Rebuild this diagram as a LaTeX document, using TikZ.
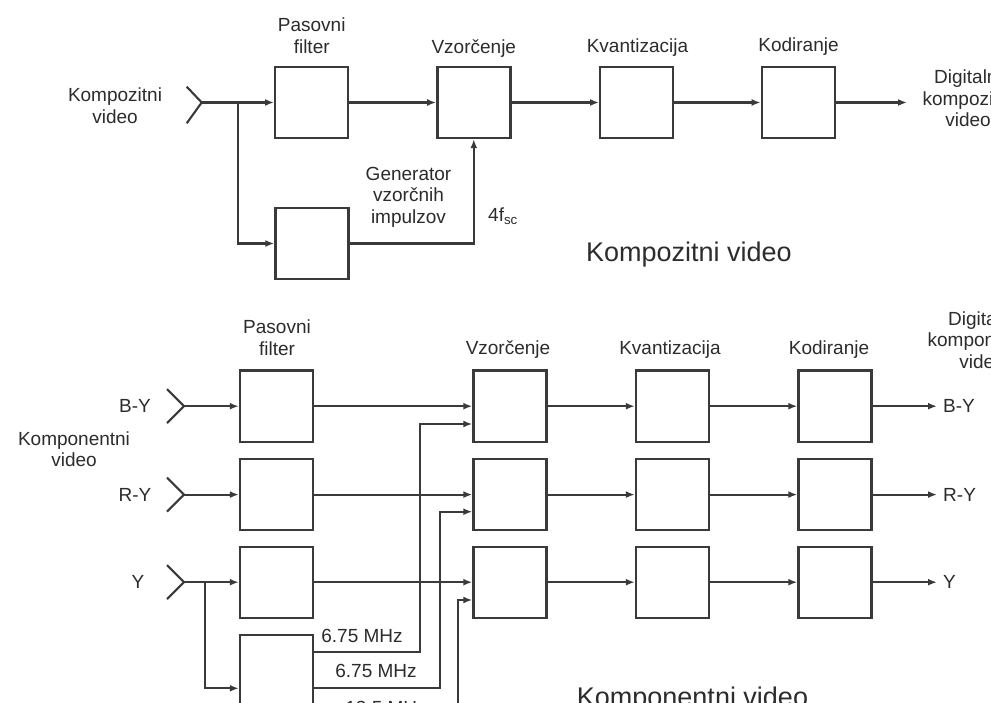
\documentclass[tikz,border=0pt]{standalone}
\usepackage{fontspec}
\setmainfont{Liberation Sans}
\usetikzlibrary{arrows.meta}
\definecolor{ink}{HTML}{3A3A3A}
\definecolor{txt}{HTML}{2C2C2C}
\begin{document}
\begin{tikzpicture}[x=1pt,y=-1pt,
  blk/.style={draw=ink,line width=2.4pt,minimum width=73pt,minimum height=71pt,inner sep=0pt,fill=white},
  wire/.style={draw=ink,line width=2.1pt},
  arr/.style={wire,-{Latex[length=9pt,width=7pt]}},
  lbl/.style={text=txt,inner sep=0pt,font=\fontsize{19}{21.5}\selectfont,align=center},
  ttl/.style={text=txt,inner sep=0pt,font=\fontsize{27}{30}\selectfont}]
\useasboundingbox (0,0) rectangle (991,703);
\clip (0,0) rectangle (991,703);
\fill[white] (0,0) rectangle (991,703);

% ---------------- top: composite ----------------
\node[blk] (f1) at (311.7,102.5) {};
\node[blk] (v1) at (473.8,102.5) {};
\node[blk] (q1) at (636.7,102.5) {};
\node[blk] (k1) at (798.3,102.5) {};
\node[blk] (g1) at (312,243.5) {};

\node[lbl,anchor=north] (lin1) at (115,88) {Kompozitni\\video};
\node[lbl,anchor=north] (lf1) at (311.7,18) {Pasovni\\filter};
\node[lbl,anchor=base] (lv1) at (473.8,54) {Vzorčenje};
\node[lbl,anchor=base] (lq1) at (637.5,53) {Kvantizacija};
\node[lbl,anchor=base] (lk1) at (798.5,52) {Kodiranje};
\node[lbl,anchor=north] (lg1) at (408.5,167) {Generator\\vzorčnih\\impulzov};
\node[lbl,anchor=base west] (lfsc) at (488,222) {4f\textsubscript{sc}};
\node[lbl,anchor=north] (lout1) at (968,70) {Digitalni\\kompozitni\\video};
\node[ttl,anchor=base] (t1) at (689,261.5) {Kompozitni video};

\coordinate (ti) at (201.7,102.5);
\draw[wire] (186.7,86.7) -- (ti) -- (186.7,123.3);
\coordinate (tb) at (238.3,102.5);
\draw[arr] (ti) -- (f1.west);
\draw[arr] (tb) |- (g1.west);
\draw[arr] (f1.east) -- (v1.west);
\draw[arr] (v1.east) -- (q1.west);
\draw[arr] (q1.east) -- (k1.west);
\coordinate (o1) at (907,102.5);
\draw[arr] (k1.east) -- (o1);
\draw[arr] (g1.east) -| (v1.south);

% ---------------- bottom: component ----------------
\foreach \r/\y in {A/406.2,B/494.6,C/582.2}{
  \node[blk] (f\r) at (276.5,\y) {};
  \node[blk] (v\r) at (510,\y) {};
  \node[blk] (q\r) at (672.5,\y) {};
  \node[blk] (k\r) at (835,\y) {};
  \coordinate (tip\r) at (184,\y);
  \draw[wire] (167,\y-17) -- (tip\r) -- (167,\y+17);
  \draw[arr] (tip\r) -- (f\r.west);
  \draw[arr] (f\r.east) -- (v\r.west);
  \draw[arr] (v\r.east) -- (q\r.west);
  \draw[arr] (q\r.east) -- (k\r.west);
  \coordinate (o\r) at (937,\y);
  \draw[arr] (k\r.east) -- (o\r);
}
\node[blk] (g2) at (276.5,670.5) {};

\node[lbl,anchor=north] (lf2) at (277,320) {Pasovni\\filter};
\node[lbl,anchor=base] (lv2) at (508,355) {Vzorčenje};
\node[lbl,anchor=base] (lq2) at (670,355) {Kvantizacija};
\node[lbl,anchor=base] (lk2) at (829,355) {Kodiranje};
\node[lbl,anchor=north] (lcv) at (74,431.5) {Komponentni\\video};
\node[lbl,anchor=north] (lout2) at (982,311.5) {Digitalni\\komponentni\\video};
\node[lbl] (iA) at (135,406.2) {B-Y};
\node[lbl] (iB) at (135,494.6) {R-Y};
\node[lbl] (iC) at (138,582.2) {Y};
\node[lbl,anchor=west] (xA) at (943,406.2) {B-Y};
\node[lbl,anchor=west] (xB) at (943,494.6) {R-Y};
\node[lbl,anchor=west] (xC) at (943,582.2) {Y};
\node[lbl] (m1) at (362,636) {6.75 MHz};
\node[lbl] (m2) at (376,671) {6.75 MHz};
\node[lbl] (m3) at (386,707.5) {13.5 MHz};
\node[ttl,anchor=base] (t2) at (692.5,706.5) {Komponentni video};

\coordinate (yb) at (205,582.2);
\draw[arr] (yb) |- (g2.west |- 0,688.3);
\coordinate (c1) at (420,424);
\coordinate (c2) at (440,511.7);
\coordinate (c3) at (458,600);
\draw[arr] (g2.east |- 0,651.7) -| (c1) -- (c1 -| vA.west);
\draw[arr] (g2.east |- 0,688.3) -| (c2) -- (c2 -| vB.west);
\draw[arr] (g2.east |- 0,724) -| (c3) -- (c3 -| vC.west);
\end{tikzpicture}
\end{document}
